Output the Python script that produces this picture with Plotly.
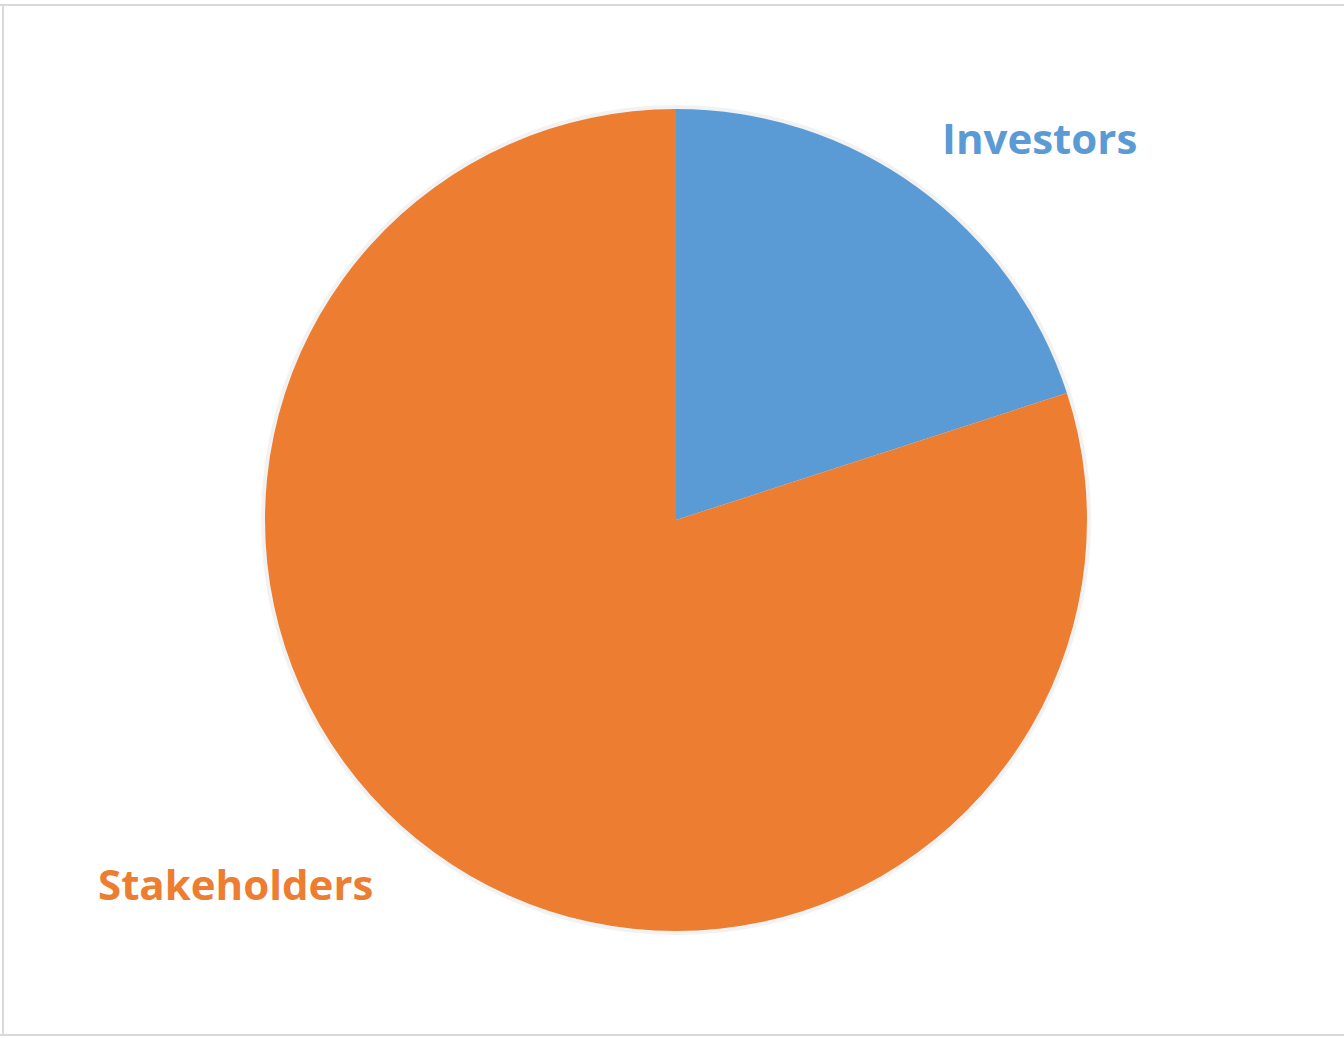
import plotly.graph_objects as go

# Share of the two groups
labels = ["Investors", "Stakeholders"]
values = [20, 80]
colors = ["#5B9BD5", "#ED7D31"]

W, H = 1344, 1039
cx, cy, r = 676, 520, 411

dom_x = [(cx - r) / W, (cx + r) / W]
dom_y = [(H - cy - r) / H, (H - cy + r) / H]

fig = go.Figure()

# faint halo behind the pie
fig.add_trace(go.Pie(
    values=[1], labels=[""], marker=dict(colors=["rgba(0,0,0,0.05)"], line=dict(width=0)),
    domain=dict(x=[(cx - r - 4) / W, (cx + r + 4) / W], y=[(H - cy - r - 4) / H, (H - cy + r + 4) / H]),
    textinfo="none", hoverinfo="skip", showlegend=False, sort=False,
))

fig.add_trace(go.Pie(
    labels=labels, values=values, sort=False, direction="clockwise", rotation=0,
    marker=dict(colors=colors, line=dict(width=0)),
    domain=dict(x=dom_x, y=dom_y),
    textinfo="none", showlegend=False,
))

# category labels placed beside the pie
label_pos = [(1039, 138), (235, 883)]
for name, col, (px, py) in zip(labels, colors, label_pos):
    fig.add_annotation(
        x=px / W, y=1 - py / H, xref="paper", yref="paper",
        text=f"<b>{name}</b>", showarrow=False,
        font=dict(family="Open Sans, Lato, sans-serif", size=42, color=col),
        xanchor="center", yanchor="middle",
    )

# thin frame on the top, left and bottom edges
frame = dict(color="#D9D9D9", width=2)
fig.add_shape(type="line", xref="paper", yref="paper",
              x0=0, x1=1, y0=1 - 5 / H, y1=1 - 5 / H, line=frame)
fig.add_shape(type="line", xref="paper", yref="paper",
              x0=0, x1=1, y0=1 - 1035 / H, y1=1 - 1035 / H, line=frame)
fig.add_shape(type="line", xref="paper", yref="paper",
              x0=3 / W, x1=3 / W, y0=1 - 1035 / H, y1=1 - 5 / H, line=frame)

fig.update_layout(
    width=W, height=H, margin=dict(l=0, r=0, t=0, b=0),
    paper_bgcolor="white", plot_bgcolor="white",
)

fig.write_html("out.html")
